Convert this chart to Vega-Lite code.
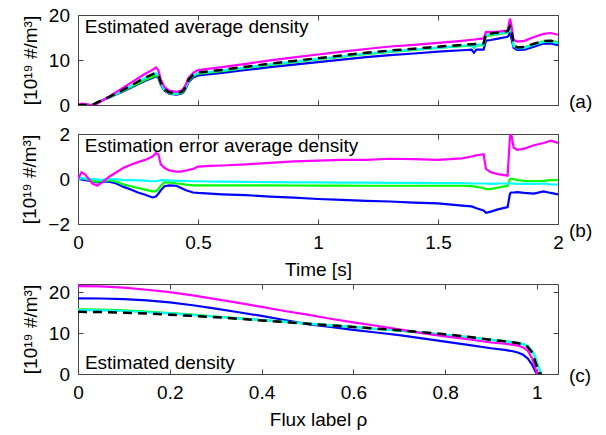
{
  "$schema": "https://vega.github.io/schema/vega-lite/v6.json",
  "padding": {"left": 20, "top": 5, "right": 2, "bottom": 2},
  "config": {
    "font": "Liberation Sans",
    "view": {"stroke": "#444", "strokeWidth": 1},
    "axis": {"grid": false, "domain": false, "tickColor": "#444", "tickSize": -5, "tickWidth": 1,
      "labelFont": "Liberation Sans", "labelFontSize": 19, "labelColor": "#000", "labelOverlap": false, "labelFlush": false,
      "titleFont": "Liberation Sans", "titleFontSize": 19, "titleFontWeight": "normal", "titleColor": "#000"},
    "axisX": {"labelPadding": 14.5, "titlePadding": 8},
    "axisY": {"labelPadding": 13.5, "titlePadding": 8},
    "text": {"font": "Liberation Sans", "fontSize": 19, "color": "#000"}
  },
  "datasets": {
    "a": [
      {"t":0,"r":0,"m":0,"b":0,"g":0,"c":0},
      {"t":0.015,"r":0,"m":0.3,"b":0,"g":0.05,"c":0.05},
      {"t":0.03,"r":0,"m":0.2,"b":0,"g":0,"c":0.02},
      {"t":0.06,"r":0.05,"m":0,"b":0,"g":0,"c":0.05},
      {"t":0.08,"r":0.6,"m":0.3,"b":0.45,"g":0.48,"c":0.58},
      {"t":0.1,"r":1.1,"m":0.95,"b":0.98,"g":1.0,"c":1.05},
      {"t":0.13,"r":1.8,"m":1.9,"b":1.68,"g":1.75,"c":1.8},
      {"t":0.16,"r":2.6,"m":2.9,"b":2.4,"g":2.48,"c":2.58},
      {"t":0.19,"r":3.4,"m":3.9,"b":3.05,"g":3.15,"c":3.35},
      {"t":0.22,"r":4.3,"m":4.93,"b":3.83,"g":3.98,"c":4.25},
      {"t":0.25,"r":5.2,"m":5.95,"b":4.6,"g":4.8,"c":5.14},
      {"t":0.28,"r":6.1,"m":6.95,"b":5.4,"g":5.63,"c":6.03},
      {"t":0.31,"r":6.8,"m":7.8,"b":5.98,"g":6.25,"c":6.7},
      {"t":0.325,"r":7.2,"m":8.35,"b":6.42,"g":6.65,"c":7.1},
      {"t":0.335,"r":6.6,"m":7.7,"b":5.95,"g":6.15,"c":6.52},
      {"t":0.345,"r":5.0,"m":5.65,"b":4.5,"g":4.7,"c":4.95},
      {"t":0.36,"r":3.5,"m":4.0,"b":3.18,"g":3.35,"c":3.45},
      {"t":0.38,"r":2.8,"m":3.18,"b":2.52,"g":2.65,"c":2.74},
      {"t":0.41,"r":2.6,"m":2.93,"b":2.3,"g":2.4,"c":2.52},
      {"t":0.43,"r":2.9,"m":3.23,"b":2.5,"g":2.68,"c":2.82},
      {"t":0.44,"r":3.3,"m":3.65,"b":2.85,"g":3.06,"c":3.22},
      {"t":0.45,"r":4.3,"m":4.68,"b":3.8,"g":4.05,"c":4.2},
      {"t":0.46,"r":5.6,"m":6.0,"b":5.05,"g":5.33,"c":5.5},
      {"t":0.48,"r":6.7,"m":7.15,"b":6.1,"g":6.42,"c":6.6},
      {"t":0.5,"r":7.2,"m":7.75,"b":6.58,"g":6.92,"c":7.1},
      {"t":0.55,"r":7.5,"m":8.08,"b":6.85,"g":7.22,"c":7.39},
      {"t":0.6,"r":7.8,"m":8.4,"b":7.12,"g":7.52,"c":7.68},
      {"t":0.7,"r":8.5,"m":9.15,"b":7.78,"g":8.22,"c":8.37},
      {"t":0.8,"r":9.2,"m":9.92,"b":8.42,"g":8.92,"c":9.06},
      {"t":0.9,"r":9.8,"m":10.58,"b":8.97,"g":9.52,"c":9.65},
      {"t":1.0,"r":10.4,"m":11.22,"b":9.51,"g":10.12,"c":10.25},
      {"t":1.1,"r":11.0,"m":11.85,"b":10.07,"g":10.72,"c":10.84},
      {"t":1.2,"r":11.6,"m":12.45,"b":10.63,"g":11.32,"c":11.44},
      {"t":1.3,"r":12.1,"m":13.0,"b":11.1,"g":11.82,"c":11.93},
      {"t":1.4,"r":12.5,"m":13.38,"b":11.45,"g":12.22,"c":12.33},
      {"t":1.5,"r":12.95,"m":13.8,"b":11.87,"g":12.67,"c":12.77},
      {"t":1.6,"r":13.35,"m":14.27,"b":12.17,"g":13.05,"c":13.17},
      {"t":1.64,"r":13.5,"m":14.5,"b":12.28,"g":13.18,"c":13.3},
      {"t":1.65,"r":13.5,"m":14.5,"b":11.6,"g":12.7,"c":12.8},
      {"t":1.66,"r":13.6,"m":14.65,"b":12.32,"g":13.25,"c":13.4},
      {"t":1.69,"r":13.7,"m":14.8,"b":12.3,"g":13.3,"c":13.5},
      {"t":1.7,"r":15.8,"m":16.25,"b":14.3,"g":15.35,"c":15.6},
      {"t":1.72,"r":15.9,"m":16.2,"b":14.45,"g":15.45,"c":15.68},
      {"t":1.75,"r":16.1,"m":16.32,"b":14.75,"g":15.72,"c":15.9},
      {"t":1.79,"r":16.4,"m":16.55,"b":15.15,"g":16.1,"c":16.2},
      {"t":1.8,"r":17.5,"m":19.2,"b":16.0,"g":17.2,"c":17.3},
      {"t":1.805,"r":17.0,"m":18.0,"b":15.0,"g":16.5,"c":16.8},
      {"t":1.815,"r":13.3,"m":14.5,"b":12.7,"g":13.3,"c":13.1},
      {"t":1.83,"r":12.8,"m":14.1,"b":12.22,"g":12.75,"c":12.58},
      {"t":1.86,"r":12.9,"m":14.25,"b":12.28,"g":12.82,"c":12.68},
      {"t":1.9,"r":13.6,"m":15.1,"b":12.95,"g":13.5,"c":13.38},
      {"t":1.94,"r":14.2,"m":15.8,"b":13.65,"g":14.12,"c":14.0},
      {"t":1.97,"r":14.3,"m":16.0,"b":13.68,"g":14.25,"c":14.06},
      {"t":2.0,"r":14.0,"m":15.6,"b":13.32,"g":13.95,"c":13.75}
    ],
    "e": [
      {"t":0,"m":0,"b":0,"g":0,"c":0},
      {"t":0.015,"m":0.3,"b":-0.02,"g":0.05,"c":0.05},
      {"t":0.03,"m":0.2,"b":-0.05,"g":0,"c":0.02},
      {"t":0.06,"m":-0.2,"b":-0.1,"g":-0.08,"c":0},
      {"t":0.08,"m":-0.3,"b":-0.15,"g":-0.12,"c":-0.02},
      {"t":0.1,"m":-0.15,"b":-0.12,"g":-0.1,"c":-0.05},
      {"t":0.13,"m":0.1,"b":-0.12,"g":-0.05,"c":0},
      {"t":0.16,"m":0.3,"b":-0.2,"g":-0.12,"c":-0.02},
      {"t":0.19,"m":0.5,"b":-0.35,"g":-0.25,"c":-0.05},
      {"t":0.22,"m":0.63,"b":-0.47,"g":-0.32,"c":-0.05},
      {"t":0.25,"m":0.75,"b":-0.6,"g":-0.4,"c":-0.06},
      {"t":0.28,"m":0.85,"b":-0.7,"g":-0.47,"c":-0.07},
      {"t":0.31,"m":1.0,"b":-0.82,"g":-0.55,"c":-0.1},
      {"t":0.325,"m":1.15,"b":-0.78,"g":-0.55,"c":-0.1},
      {"t":0.335,"m":1.1,"b":-0.65,"g":-0.45,"c":-0.08},
      {"t":0.345,"m":0.65,"b":-0.5,"g":-0.3,"c":-0.05},
      {"t":0.36,"m":0.5,"b":-0.32,"g":-0.15,"c":-0.05},
      {"t":0.38,"m":0.38,"b":-0.28,"g":-0.15,"c":-0.06},
      {"t":0.41,"m":0.33,"b":-0.3,"g":-0.2,"c":-0.08},
      {"t":0.43,"m":0.33,"b":-0.4,"g":-0.22,"c":-0.08},
      {"t":0.45,"m":0.38,"b":-0.5,"g":-0.25,"c":-0.09},
      {"t":0.48,"m":0.45,"b":-0.6,"g":-0.28,"c":-0.1},
      {"t":0.5,"m":0.55,"b":-0.62,"g":-0.28,"c":-0.1},
      {"t":0.55,"m":0.58,"b":-0.65,"g":-0.28,"c":-0.11},
      {"t":0.6,"m":0.6,"b":-0.68,"g":-0.28,"c":-0.12},
      {"t":0.7,"m":0.65,"b":-0.72,"g":-0.28,"c":-0.13},
      {"t":0.8,"m":0.72,"b":-0.78,"g":-0.28,"c":-0.14},
      {"t":0.9,"m":0.78,"b":-0.83,"g":-0.29,"c":-0.15},
      {"t":1.0,"m":0.82,"b":-0.89,"g":-0.29,"c":-0.15},
      {"t":1.1,"m":0.85,"b":-0.93,"g":-0.29,"c":-0.16},
      {"t":1.2,"m":0.85,"b":-0.97,"g":-0.3,"c":-0.16},
      {"t":1.3,"m":0.9,"b":-1.0,"g":-0.3,"c":-0.17},
      {"t":1.4,"m":0.88,"b":-1.05,"g":-0.3,"c":-0.17},
      {"t":1.5,"m":0.85,"b":-1.08,"g":-0.3,"c":-0.18},
      {"t":1.6,"m":0.92,"b":-1.18,"g":-0.3,"c":-0.18},
      {"t":1.64,"m":1.0,"b":-1.22,"g":-0.32,"c":-0.2},
      {"t":1.66,"m":1.05,"b":-1.3,"g":-0.35,"c":-0.2},
      {"t":1.69,"m":1.1,"b":-1.4,"g":-0.4,"c":-0.2},
      {"t":1.7,"m":0.45,"b":-1.5,"g":-0.45,"c":-0.2},
      {"t":1.72,"m":0.3,"b":-1.45,"g":-0.45,"c":-0.22},
      {"t":1.75,"m":0.22,"b":-1.35,"g":-0.38,"c":-0.2},
      {"t":1.79,"m":0.15,"b":-1.25,"g":-0.3,"c":-0.2},
      {"t":1.8,"m":1.9,"b":-0.65,"g":0,"c":-0.18},
      {"t":1.805,"m":2.0,"b":-0.6,"g":0.02,"c":-0.2},
      {"t":1.815,"m":1.4,"b":-0.6,"g":0,"c":-0.2},
      {"t":1.83,"m":1.3,"b":-0.58,"g":-0.05,"c":-0.22},
      {"t":1.86,"m":1.35,"b":-0.62,"g":-0.08,"c":-0.22},
      {"t":1.9,"m":1.5,"b":-0.65,"g":-0.1,"c":-0.22},
      {"t":1.94,"m":1.6,"b":-0.55,"g":-0.08,"c":-0.2},
      {"t":1.97,"m":1.7,"b":-0.62,"g":-0.05,"c":-0.24},
      {"t":2.0,"m":1.6,"b":-0.68,"g":-0.05,"c":-0.25}
    ],
    "p": [
      {"x":0,"r":15.2,"m":21.5,"b":18.5,"g":15.8,"c":15.6},
      {"x":0.05,"r":15.15,"m":21.4,"b":18.45,"g":15.75,"c":15.55},
      {"x":0.1,"r":15.0,"m":21.1,"b":18.3,"g":15.55,"c":15.4},
      {"x":0.15,"r":14.8,"m":20.6,"b":18.0,"g":15.25,"c":15.1},
      {"x":0.2,"r":14.5,"m":20.0,"b":17.5,"g":14.9,"c":14.8},
      {"x":0.25,"r":14.2,"m":19.2,"b":16.8,"g":14.5,"c":14.4},
      {"x":0.3,"r":13.9,"m":18.3,"b":16.0,"g":14.05,"c":14.0},
      {"x":0.35,"r":13.5,"m":17.4,"b":15.1,"g":13.6,"c":13.6},
      {"x":0.4,"r":13.1,"m":16.4,"b":14.2,"g":13.2,"c":13.2},
      {"x":0.45,"r":12.7,"m":15.4,"b":13.2,"g":12.75,"c":12.8},
      {"x":0.5,"r":12.3,"m":14.5,"b":12.2,"g":12.3,"c":12.3},
      {"x":0.55,"r":11.9,"m":13.5,"b":11.5,"g":11.9,"c":11.9},
      {"x":0.6,"r":11.5,"m":12.6,"b":10.8,"g":11.5,"c":11.5},
      {"x":0.65,"r":11.1,"m":11.8,"b":10.15,"g":11.0,"c":11.0},
      {"x":0.7,"r":10.7,"m":10.9,"b":9.5,"g":10.6,"c":10.6},
      {"x":0.75,"r":10.2,"m":10.0,"b":8.7,"g":10.1,"c":10.1},
      {"x":0.8,"r":9.7,"m":9.2,"b":7.9,"g":9.6,"c":9.6},
      {"x":0.85,"r":9.1,"m":8.5,"b":7.1,"g":9.05,"c":9.05},
      {"x":0.9,"r":8.35,"m":7.7,"b":6.3,"g":8.35,"c":8.35},
      {"x":0.93,"r":8.0,"m":7.4,"b":5.9,"g":8.0,"c":8.0},
      {"x":0.95,"r":7.7,"m":7.1,"b":5.5,"g":7.75,"c":7.75},
      {"x":0.96,"r":7.5,"m":6.9,"b":5.2,"g":7.55,"c":7.55},
      {"x":0.97,"r":7.2,"m":6.5,"b":4.7,"g":7.3,"c":7.3},
      {"x":0.98,"r":6.6,"m":5.7,"b":3.8,"g":6.8,"c":6.8},
      {"x":0.99,"r":5.2,"m":3.8,"b":2.2,"g":5.6,"c":5.6},
      {"x":0.995,"r":3.5,"m":2.0,"b":1.0,"g":4.5,"c":4.5},
      {"x":1.0,"r":1.8,"m":0.3,"b":0,"g":2.8,"c":2.8},
      {"x":1.005,"r":0.3,"m":0,"b":0,"g":1.2,"c":1.2},
      {"x":1.01,"r":0,"m":0,"b":0,"g":0,"c":0}
    ],
    "ta": [
      {"t":0.028,"v":15.9,"txt":"Estimated average density"},
      {"t":2.046,"v":-0.7,"txt":"(a)"}
    ],
    "tb": [
      {"t":0.028,"v":1.22,"txt":"Estimation error average density"},
      {"t":2.046,"v":-2.59,"txt":"(b)"}
    ],
    "tc": [
      {"x":0.015,"v":1.15,"txt":"Estimated density"},
      {"x":1.07,"v":-1.98,"txt":"(c)"}
    ]
  },
  "spacing": 2,
  "vconcat": [
    {
      "width": 480, "height": 90,
      "layer": [
        {
          "data": {"name": "a"},
          "transform": [{"fold": ["b", "g", "c", "m"], "as": ["s", "v"]}],
          "mark": {"type": "line", "strokeWidth": 2.2, "clip": true},
          "encoding": {
            "x": {"field": "t", "type": "quantitative", "scale": {"domain": [0, 2], "nice": false, "zero": false},
              "axis": {"values": [0, 0.5, 1, 1.5, 2], "labels": false, "minExtent": 16.5, "maxExtent": 16.5, "title": null}},
            "y": {"field": "v", "type": "quantitative", "scale": {"domain": [0, 20], "nice": false},
              "axis": {"values": [0, 10, 20], "title": "[10¹⁹ #/m³]"}},
            "color": {"field": "s", "type": "nominal", "scale": {"domain": ["b", "g", "c", "m"], "range": ["#0000ff", "#00ff00", "#00ffff", "#ff00ff"]}, "legend": null}
          }
        },
        {
          "data": {"name": "a"},
          "mark": {"type": "line", "color": "#000", "strokeWidth": 2.5, "strokeDash": [9, 6], "clip": true},
          "encoding": {
            "x": {"field": "t", "type": "quantitative", "axis": null},
            "y": {"field": "r", "type": "quantitative", "axis": null}
          }
        },
        {
          "data": {"name": "ta"},
          "mark": {"type": "text", "align": "left", "baseline": "alphabetic"},
          "encoding": {
            "x": {"field": "t", "type": "quantitative", "axis": {"orient": "top", "values": [0, 0.5, 1, 1.5, 2], "labels": false, "title": null}},
            "y": {"field": "v", "type": "quantitative", "axis": {"orient": "right", "values": [0, 10, 20], "labels": false, "title": null}},
            "text": {"field": "txt"}
          }
        }
      ],
      "resolve": {"axis": {"x": "independent", "y": "independent"}}
    },
    {
      "width": 480, "height": 90,
      "layer": [
        {
          "data": {"name": "e"},
          "transform": [{"fold": ["b", "g", "c", "m"], "as": ["s", "v"]}],
          "mark": {"type": "line", "strokeWidth": 2.2, "clip": true},
          "encoding": {
            "x": {"field": "t", "type": "quantitative", "scale": {"domain": [0, 2], "nice": false, "zero": false},
              "axis": {"values": [0, 0.5, 1, 1.5, 2], "format": "~g", "title": "Time [s]"}},
            "y": {"field": "v", "type": "quantitative", "scale": {"domain": [-2, 2], "nice": false},
              "axis": {"values": [-2, 0, 2], "title": "[10¹⁹ #/m³]"}},
            "color": {"field": "s", "type": "nominal", "scale": {"domain": ["b", "g", "c", "m"], "range": ["#0000ff", "#00ff00", "#00ffff", "#ff00ff"]}, "legend": null}
          }
        },
        {
          "data": {"name": "tb"},
          "mark": {"type": "text", "align": "left", "baseline": "alphabetic"},
          "encoding": {
            "x": {"field": "t", "type": "quantitative", "axis": {"orient": "top", "values": [0, 0.5, 1, 1.5, 2], "labels": false, "title": null}},
            "y": {"field": "v", "type": "quantitative", "axis": {"orient": "right", "values": [-2, 0, 2], "labels": false, "title": null}},
            "text": {"field": "txt"}
          }
        }
      ],
      "resolve": {"axis": {"x": "independent", "y": "independent"}}
    },
    {
      "width": 480, "height": 90,
      "layer": [
        {
          "data": {"name": "p"},
          "transform": [{"fold": ["b", "g", "c", "m"], "as": ["s", "v"]}],
          "mark": {"type": "line", "strokeWidth": 2.2, "clip": true},
          "encoding": {
            "x": {"field": "x", "type": "quantitative", "scale": {"domain": [0, 1.046], "nice": false, "zero": false},
              "axis": {"values": [0, 0.2, 0.4, 0.6, 0.8, 1], "format": "~g", "title": "Flux label ρ"}},
            "y": {"field": "v", "type": "quantitative", "scale": {"domain": [0, 22], "nice": false},
              "axis": {"values": [0, 10, 20], "title": "[10¹⁹ #/m³]"}},
            "color": {"field": "s", "type": "nominal", "scale": {"domain": ["b", "g", "c", "m"], "range": ["#0000ff", "#00ff00", "#00ffff", "#ff00ff"]}, "legend": null}
          }
        },
        {
          "data": {"name": "p"},
          "mark": {"type": "line", "color": "#000", "strokeWidth": 2.5, "strokeDash": [9, 6], "clip": true},
          "encoding": {
            "x": {"field": "x", "type": "quantitative", "axis": null},
            "y": {"field": "r", "type": "quantitative", "axis": null}
          }
        },
        {
          "data": {"name": "tc"},
          "mark": {"type": "text", "align": "left", "baseline": "alphabetic"},
          "encoding": {
            "x": {"field": "x", "type": "quantitative", "axis": {"orient": "top", "values": [0, 0.2, 0.4, 0.6, 0.8, 1], "labels": false, "title": null}},
            "y": {"field": "v", "type": "quantitative", "axis": {"orient": "right", "values": [0, 10, 20], "labels": false, "title": null}},
            "text": {"field": "txt"}
          }
        }
      ],
      "resolve": {"axis": {"x": "independent", "y": "independent"}}
    }
  ]
}
